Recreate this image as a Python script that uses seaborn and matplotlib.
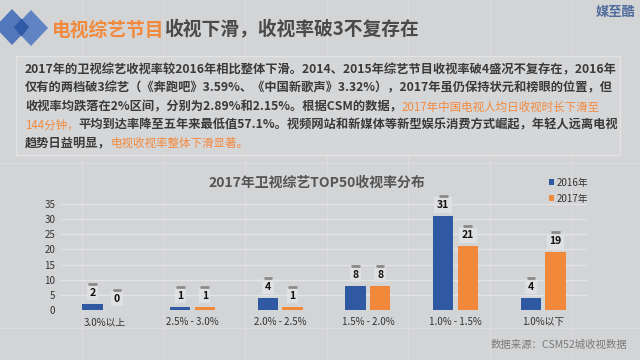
import matplotlib
matplotlib.use("Agg")
import matplotlib.pyplot as plt
import matplotlib.transforms as mtransforms
from matplotlib.patches import Polygon, Rectangle, Patch
import seaborn as sns
import pandas as pd

# ---------------- data ----------------
categories = ["3.0%以上", "2.5% - 3.0%", "2.0% - 2.5%", "1.5% - 2.0%", "1.0% - 1.5%", "1.0%以下"]
series_names = ["2016年", "2017年"]
values_2016 = [2, 1, 4, 8, 31, 4]
values_2017 = [0, 1, 1, 8, 21, 19]
y_ticks = [0, 5, 10, 15, 20, 25, 30, 35]

title_orange = "电视综艺节目"
title_rest = "收视下滑，收视率破3不复存在"
brand = "媒至酷"
chart_title = "2017年卫视综艺TOP50收视率分布"
source_text = "数据来源：CSM52城收视数据"
body_lines = [
    [("2017年的卫视综艺收视率较2016年相比整体下滑。2014、2015年综艺节目收视率破4盛况不复存在，2016年", "d")],
    [("仅有的两档破3综艺（《奔跑吧》3.59%、《中国新歌声》3.32%），2017年虽仍保持状元和榜眼的位置，但", "d")],
    [("收视率均跌落在2%区间，分别为2.89%和2.15%。根据CSM的数据，", "d"), ("2017年中国电视人均日收视时长下滑至", "o")],
    [("144分钟，", "o"), ("平均到达率降至五年来最低值57.1%。视频网站和新媒体等新型娱乐消费方式崛起，年轻人远离电视", "d")],
    [("趋势日益明显，", "d"), ("电视收视率整体下滑显著。", "o")],
]

# ---------------- style ----------------
BG = "#d3d4d6"
BLUE = "#2f59a3"
ORANGE = "#f2883a"
DARK = "#3a3a3a"
TORANGE = "#f28a3e"

sns.set_style("white")
plt.rcParams["font.family"] = ["Noto Sans CJK SC", "DejaVu Sans"]

fig = plt.figure(figsize=(6.4, 3.6), dpi=100, facecolor=BG)

# background / decoration axes in pixel coordinates
bg = fig.add_axes([0, 0, 1, 1], zorder=0)
bg.set_xlim(0, 640)
bg.set_ylim(360, 0)
bg.axis("off")
bg.set_facecolor(BG)

# faint slide grid of the photo
for gx in [82, 163, 245, 327, 408, 490, 571]:
    bg.axvline(gx, color="#dcdcde", lw=0.8, zorder=0)
for gy in [163, 328]:
    bg.axhline(gy, color="#dcdcde", lw=0.8, zorder=0)

# logo diamonds
bg.add_patch(Polygon([(12, 9), (29, 27), (12, 45), (-5, 27)], closed=True,
                     fc="#5277bb", ec="none", zorder=2))
bg.add_patch(Polygon([(31, 10), (48, 28), (31, 46), (14, 28)], closed=True,
                     fc="#5a7fc2", ec="none", zorder=2, alpha=0.95))
bg.add_patch(Polygon([(21.5, 18.5), (29, 27), (21.5, 36.5), (14, 27.5)], closed=True,
                     fc="#2f5aa6", ec="none", zorder=3))

# title
t = bg.text(52, 30, title_orange, color=TORANGE, fontsize=13.5, weight="bold",
            va="center", ha="left", zorder=4)
bg.annotate(title_rest, xy=(1, 0.5), xycoords=t, color="#4a4a4a", fontsize=13.5,
            weight="bold", va="center", ha="left", zorder=4)
bg.text(635, 12, brand, color="#4f6c9c", fontsize=9.5, weight="bold",
        va="center", ha="right", zorder=4)

# text box
bg.add_patch(Rectangle((15.5, 56), 604.5, 99, fc="#d5d6d8", ec="#e3e3e3",
                       lw=1.0, zorder=1))
line_y = [70, 88, 107, 125, 143]
for y, parts in zip(line_y, body_lines):
    prev = None
    for s, c in parts:
        if c == "d":
            kw = dict(color=DARK, fontsize=8.8, weight="bold")
        else:
            kw = dict(color=TORANGE, fontsize=8.3, weight="normal")
        if prev is None:
            prev = bg.text(25, y, s, va="center", ha="left", zorder=4, **kw)
        else:
            prev = bg.annotate(s, xy=(1, 0.5), xycoords=prev, va="center",
                               ha="left", zorder=4, **kw)

# chart title and source
bg.text(317, 183, chart_title, color="#555555", fontsize=10, weight="bold",
        va="center", ha="center", zorder=4)
bg.text(627, 345, source_text, color="#7a7a7a", fontsize=7.5,
        va="center", ha="right", zorder=4)

# ---------------- chart ----------------
df = pd.DataFrame({
    "区间": categories * 2,
    "年份": [series_names[0]] * len(categories) + [series_names[1]] * len(categories),
    "数量": values_2016 + values_2017,
})

ax = fig.add_axes([61 / 640, 1 - 310 / 360, (587 - 61) / 640, (310 - 204) / 360], zorder=5)
ax.set_facecolor("none")
sns.barplot(data=df, x="区间", y="数量", hue="年份", order=categories,
            hue_order=series_names, palette=[BLUE, ORANGE], width=0.56, gap=0.18,
            saturation=1, legend=False, ax=ax, zorder=3, linewidth=0,
            edgecolor="none")

ax.set_ylim(0, 35)
ax.set_yticks(y_ticks)
ax.set_xlim(-0.5, len(categories) - 0.5)
ax.yaxis.grid(True, color="#e4e4e6", lw=0.9, zorder=0)
ax.xaxis.grid(False)
for sp in ax.spines.values():
    sp.set_visible(False)
ax.tick_params(axis="both", length=0, labelsize=7, colors="#333333")
ax.tick_params(axis="x", pad=5)
ax.tick_params(axis="y", pad=4)
ax.set_xlabel("")
ax.set_ylabel("")

# value labels with grey dash
for cont in ax.containers:
    for bar in cont:
        v = bar.get_height()
        xc = bar.get_x() + bar.get_width() / 2
        ax.annotate(f"{int(round(v))}", xy=(xc, v), xytext=(0, 8),
                    textcoords="offset points", ha="center", va="center",
                    fontsize=7.5, weight="bold", color="#111111",
                    bbox=dict(boxstyle="square,pad=0.25", fc="#dfe0e2", ec="none"),
                    annotation_clip=False, zorder=6)
        tr = mtransforms.offset_copy(ax.transData, fig=fig, x=0, y=20, units="dots")
        ax.plot([xc - 0.05, xc + 0.05], [v, v], color="#8a8a8a", lw=2,
                transform=tr, clip_on=False, zorder=6, solid_capstyle="butt")

# legend
handles = [Patch(fc=BLUE, ec="none"), Patch(fc=ORANGE, ec="none")]
fig.legend(handles, series_names, loc="upper left",
           bbox_to_anchor=(544 / 640, 1 - 173 / 360), frameon=False,
           fontsize=7, handlelength=0.55, handleheight=0.55, handletextpad=0.3,
           labelspacing=0.6, borderpad=0, labelcolor="#333333")

fig.savefig("out.png", dpi=100, facecolor=BG)
